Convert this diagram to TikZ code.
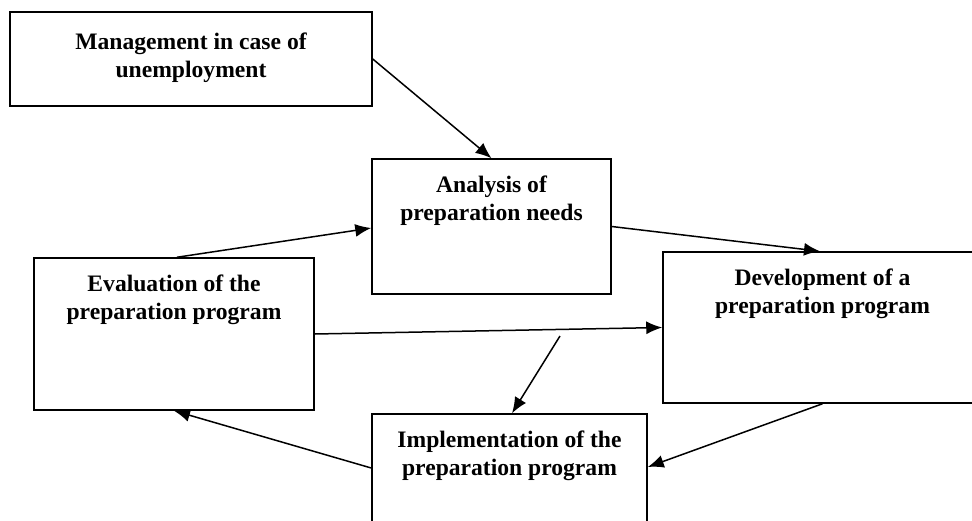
\documentclass[tikz,border=0pt]{standalone}
\usepackage{fontspec}
\setmainfont{Liberation Serif}
\usetikzlibrary{arrows.meta,positioning}

\begin{document}
\begin{tikzpicture}[
    x=1pt, y=-1pt,
    box/.style={draw, line width=1.5pt, inner sep=0pt},
    caption/.style={font=\fontsize{23.6}{28}\selectfont\bfseries, align=center, anchor=north, inner sep=0pt},
    arrow/.style={-{Latex[length=16pt,width=13pt]}, line width=1.5pt}
  ]
    \useasboundingbox (0,0) rectangle (972,520);
    \clip (0,0) rectangle (972,520);
    \node[box, minimum width=362pt, minimum height=94pt] (mgmt) at (191,59) {};
    \node[box, minimum width=239pt, minimum height=135pt] (anl) at (491.5,226.5) {};
    \node[box, minimum width=280pt, minimum height=152pt] (evl) at (174,334) {};
    \node[box, minimum width=319pt, minimum height=151pt] (dev) at (822.5,327.5) {};
    \node[box, minimum width=275pt, minimum height=126pt] (imp) at (509.5,477) {};
    \node[caption] (mgmttext) at ([yshift=-21pt]mgmt.north) {Management in case of\\unemployment};
    \node[caption] (anltext) at ([yshift=-17pt]anl.north) {Analysis of\\preparation needs};
    \node[caption] (evltext) at ([yshift=-17pt]evl.north) {Evaluation of the\\preparation program};
    \node[caption] (devtext) at ([yshift=-17pt]dev.north) {Development of a\\preparation program};
    \node[caption] (imptext) at ([yshift=-17pt]imp.north) {Implementation of the\\preparation program};
    \coordinate (fork) at (560,336);
    \draw[arrow] (mgmt.east) -- (anl.north);
    \draw[arrow] ([xshift=3pt]evl.north) -- ([yshift=-1.5pt]anl.west);
    \draw[arrow] (anl.east) -- ([xshift=-2.5pt]dev.north);
    \draw[arrow] (evl.east) -- (dev.west);
    \draw[arrow] (fork) -- ([xshift=2.5pt]imp.north);
    \draw[arrow] (dev.south) -- ([yshift=10pt]imp.east);
    \draw[arrow] ([yshift=9pt]imp.west) -- (evl.south);
  \end{tikzpicture}
\end{document}
